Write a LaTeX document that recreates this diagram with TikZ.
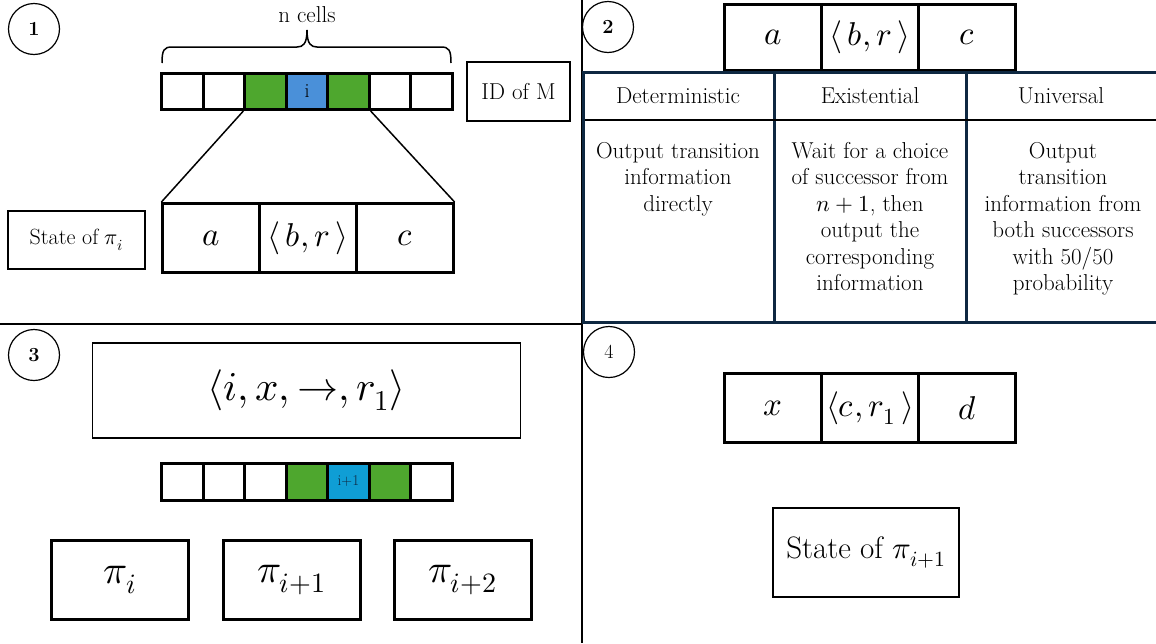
\documentclass[tikz,border=0pt]{standalone}
\usepackage{fontspec}
\usepackage{unicode-math}
\setmathfont{Latin Modern Math}
\definecolor{tgreen}{HTML}{4EA72E}
\definecolor{tblue}{HTML}{4A90D9}
\definecolor{tcyan}{HTML}{0F9ED5}
\definecolor{navy}{HTML}{0E2841}
\begin{document}
\begin{tikzpicture}[x=1pt,y=-1pt,
  every node/.style={inner sep=0pt},
  tapecell/.style={draw, line width=3pt, minimum width=41.43pt, minimum height=36pt},
  bigcell/.style={draw, line width=3pt, minimum width=96.7pt, minimum height=69pt, font=\fontsize{33}{36}\selectfont},
  thinbox/.style={draw, line width=1.2pt, font=\fontsize{23}{27}\selectfont},
  numcirc/.style={draw, circle, line width=1.2pt, minimum size=51pt, font=\fontsize{20}{22}\selectfont},
  pibox/.style={draw, line width=3pt, minimum width=137pt, minimum height=79pt, font=\fontsize{40}{44}\selectfont},
  divider/.style={line width=2pt},
  tabline/.style={draw=navy, line width=3pt},
  head/.style={font=\fontsize{23}{27}\selectfont},
  body/.style={font=\fontsize{23}{26.5}\selectfont, align=center, anchor=north},
  zoomline/.style={line width=1.5pt}
]
\fill[white] (0,0) rectangle (1156,643);
\useasboundingbox (0,0) rectangle (1156,643);

% dividers
\draw[divider] (582,0) -- (582,643);
\draw[divider] (0,324) -- (582,324);

% ---------- quadrant 1
\node[numcirc] (n1) at (34,29) {\textbf{1}};
\node[font=\fontsize{23}{27}\selectfont] (ncells) at (307,15) {n cells};
\draw[line width=1.5pt] (162,63) .. controls (162,50) and (164,47) .. (172,47) -- (297,47)
  .. controls (303,47) and (307,44) .. (307,30)
  .. controls (307,44) and (311,47) .. (317,47) -- (441,47)
  .. controls (449,47) and (451,50) .. (451,63);
\node[tapecell] (t1c1) at (182.71,91.5) {};
\node[tapecell] (t1c2) at (224.14,91.5) {};
\node[tapecell, fill=tgreen] (t1c3) at (265.57,91.5) {};
\node[tapecell, fill=tblue, font=\fontsize{20}{22}\selectfont] (t1c4) at (307,91.5) {i};
\node[tapecell, fill=tgreen] (t1c5) at (348.43,91.5) {};
\node[tapecell] (t1c6) at (389.86,91.5) {};
\node[tapecell] (t1c7) at (431.29,91.5) {};
\node[thinbox, minimum width=103pt, minimum height=59pt] (idm) at (518.5,91.5) {ID of M};
\node[bigcell] (sa) at (211.3,238) {$a$};
\node[bigcell] (sb) at (308,238) {$\langle\, b, r\,\rangle$};
\node[bigcell] (sc) at (404.7,238) {$c$};
\node[thinbox, minimum width=137pt, minimum height=58pt, font=\fontsize{22}{26}\selectfont] (st1) at (76.5,240) {State of $\pi_i$};
\draw[zoomline] (t1c3.south west) -- (sa.north west);
\draw[zoomline] (t1c5.south east) -- (sc.north east);

% ---------- quadrant 2
\node[numcirc] (n2) at (608,27) {\textbf{2}};
\node[bigcell, minimum height=66pt] (ta) at (773.3,37.5) {$a$};
\node[bigcell, minimum height=66pt] (tb) at (870,37.5) {$\langle\, b, r\,\rangle$};
\node[bigcell, minimum height=66pt] (tc) at (966.7,37.5) {$c$};
\draw[tabline] (582,72) -- (1156,72);
\draw[tabline] (582,322) -- (1156,322);
\draw[tabline] (583.5,72) -- (583.5,322);
\draw[tabline] (774,72) -- (774,322);
\draw[tabline] (966,72) -- (966,322);
\draw[line width=2pt] (585,120) -- (1156,120);
\node[head] (hdet) at (678,96) {Deterministic};
\node[head] (hexi) at (870,96) {Existential};
\node[head] (huni) at (1061,96) {Universal};
\node[body] (bdet) at (678,142) {Output transition\\information\\directly};
\node[body] (bexi) at (870,142) {Wait for a choice\\of successor from\\$n+1$, then\\output the\\corresponding\\information};
\node[body] (buni) at (1063,142) {Output\\transition\\information from\\both successors\\with 50/50\\probability};

% ---------- quadrant 3
\node[numcirc] (n3) at (34,355) {\textbf{3}};
\node[thinbox, minimum width=428pt, minimum height=95pt, font=\fontsize{41}{44}\selectfont] (tr) at (306.5,390.5) {$\langle i, x, \rightarrow, r_1\rangle$};
\node[tapecell, minimum height=37pt] (t2c1) at (182.71,481.5) {};
\node[tapecell, minimum height=37pt] (t2c2) at (224.14,481.5) {};
\node[tapecell, minimum height=37pt] (t2c3) at (265.57,481.5) {};
\node[tapecell, minimum height=37pt, fill=tgreen] (t2c4) at (307,481.5) {};
\node[tapecell, minimum height=37pt, fill=tcyan, font=\fontsize{15}{17}\selectfont, text=navy] (t2c5) at (348.43,481.5) {i+1};
\node[tapecell, minimum height=37pt, fill=tgreen] (t2c6) at (389.86,481.5) {};
\node[tapecell, minimum height=37pt] (t2c7) at (431.29,481.5) {};
\node[pibox] (p0) at (120,580) {$\pi_i$};
\node[pibox] (p1) at (291.5,580) {$\pi_{i+1}$};
\node[pibox] (p2) at (462.5,580) {$\pi_{i+2}$};

% ---------- quadrant 4
\node[numcirc] (n4) at (609,352) {4};
\node[bigcell, minimum width=97.3pt] (qa) at (772.7,408) {$x$};
\node[bigcell, minimum width=97.3pt] (qb) at (870,408) {$\langle c, r_1\,\rangle$};
\node[bigcell, minimum width=97.3pt] (qc) at (967.3,408) {$d$};
\node[thinbox, minimum width=186pt, minimum height=89pt, font=\fontsize{31}{34}\selectfont] (st2) at (866,552.5) {State of $\pi_{i+1}$};
\end{tikzpicture}
\end{document}
